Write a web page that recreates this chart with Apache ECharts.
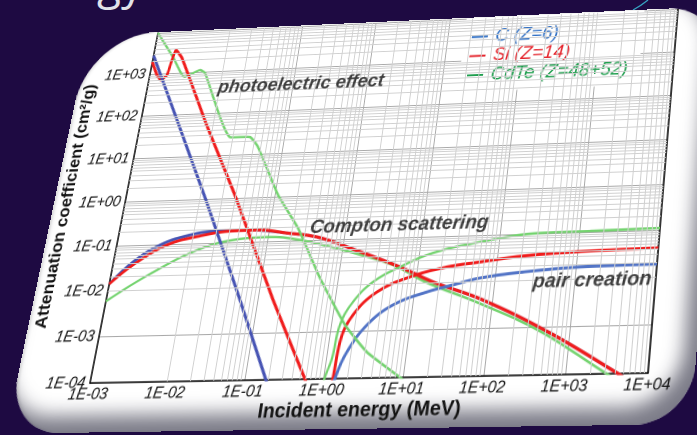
<!DOCTYPE html>
<html>
<head>
<meta charset="utf-8">
<script src="https://cdn.jsdelivr.net/npm/echarts@6/dist/echarts.min.js"></script>
<style>
  html, body { margin: 0; padding: 0; width: 697px; height: 435px; overflow: hidden; background: #1e0a42; }
  #deco { position: absolute; left: 0; top: 0; }
  #card {
    position: absolute; left: 0; top: 0; width: 683px; height: 408px;
    background: #ffffff; border-radius: 75px 55px 55px 55px; overflow: hidden;
    transform-origin: 0 0;
    box-shadow: inset -12px -16px 18px rgba(30, 30, 50, 0.58), inset 2px 0 3px rgba(0, 0, 0, 0.12);
  }
  #chart { position: absolute; left: 0; top: 0; width: 683px; height: 408px; }
</style>
</head>
<body>
<svg id="deco" width="697" height="435">
  <text x="143" y="-1" text-anchor="end" font-family="Open Sans" font-size="44" fill="#e2e2ea">Energy</text>
  <path d="M648 0 Q642 5 633 10" stroke="#3cc8e0" stroke-width="1.3" fill="none" opacity="0.8"/>
</svg>
<div id="card"><div id="chart"></div></div>
<script>
// ---- Mass attenuation coefficients (cm²/g) vs photon energy (MeV) ----
// Carbon, Z = 6
const cPhotoE   = [0.001, 0.0123, 0.059, 0.188, 0.26];
const cPhotoMu  = [2800, 0.95, 5.3e-3, 1e-4, 3.5e-5];
const cComptonE  = [0.001, 0.00183, 0.00382, 0.0091, 0.0205, 0.0413, 0.069, 0.175, 0.444, 1.26, 6.0, 16.8, 76.5, 578, 4230, 10000];
const cComptonMu = [0.014, 0.042, 0.097, 0.156, 0.184, 0.187, 0.182, 0.149, 0.116, 0.063, 0.0225, 0.0102, 3.94e-3, 7.35e-4, 1.03e-4, 4.3e-5];
const cPairE  = [1.35, 1.41, 1.79, 2.88, 5.68, 14.6, 30.4, 65.2, 222, 1126, 10000];
const cPairMu = [5e-5, 1e-4, 3.6e-4, 1.32e-3, 3.42e-3, 6.25e-3, 8.57e-3, 0.0117, 0.0149, 0.0178, 0.0186];

// Silicon, Z = 14
const siPhotoE  = [0.001, 0.00126, 0.00148, 0.00174, 0.00186, 0.0020, 0.00254, 0.0083, 0.0294, 0.159, 0.59, 0.75];
const siPhotoMu = [1950, 930, 700, 910, 2080, 3600, 2280, 52, 1.17, 5.1e-3, 1e-4, 4.5e-5];
const siComptonE  = [0.001, 0.00186, 0.00474, 0.0125, 0.0335, 0.069, 0.175, 0.444, 1.26, 6.0, 16.8, 76.5, 578, 4230, 10000];
const siComptonMu = [0.014, 0.036, 0.096, 0.146, 0.18, 0.182, 0.149, 0.116, 0.063, 0.0225, 0.0102, 3.94e-3, 7.35e-4, 1.03e-4, 4.3e-5];
const siPairE  = [1.28, 1.33, 1.40, 1.83, 3.37, 8.38, 23.9, 61.6, 211, 883, 10000];
const siPairMu = [5e-5, 1e-4, 5.9e-4, 2.19e-3, 6.65e-3, 0.0135, 0.0211, 0.026, 0.0331, 0.0377, 0.041];

// CdTe, Z = 48 + 52
const cdtePhotoE  = [0.001, 0.00189, 0.0031, 0.0049, 0.00582, 0.0185, 0.0345, 0.0467, 0.111, 0.239, 0.585, 1.51, 3.21, 9.25, 13];
const cdtePhotoMu = [10000, 2470, 780, 1110, 929, 26, 25, 14.4, 1.09, 0.19, 0.0144, 1.35e-3, 3.5e-4, 1e-4, 6.6e-5];
const cdteComptonE  = [0.001, 0.00331, 0.0134, 0.0433, 0.0975, 0.269, 1.28, 4.84, 14.0, 71.4, 428, 3030, 10000];
const cdteComptonMu = [0.0058, 0.0221, 0.0746, 0.1175, 0.125, 0.102, 0.0515, 0.0251, 0.0100, 3.3e-3, 8.2e-4, 1.05e-4, 3.2e-5];
const cdtePairE  = [0.98, 1.05, 1.19, 1.30, 1.73, 2.87, 6.0, 15.0, 57.4, 321, 1360, 10000];
const cdtePairMu = [5e-5, 1.1e-4, 2.7e-4, 1.36e-3, 4.16e-3, 0.011, 0.0225, 0.0436, 0.0708, 0.102, 0.105, 0.110];

// Legend entries and process labels
const materialNames = ['C (Z=6)', 'Si (Z=14)', 'CdTe (Z=48+52)'];
const noteText = ['photoelectric effect', 'Compton scattering', 'pair creation'];
const noteE  = [9.6e-3, 0.344, 305];
const noteMu = [392, 0.186, 9.0e-3];

// Axis tick labels, one per decade
const xTickLabels = ['1E-03', '1E-02', '1E-01', '1E+00', '1E+01', '1E+02', '1E+03', '1E+04'];
const yTickLabels = ['1E-04', '1E-03', '1E-02', '1E-01', '1E+00', '1E+01', '1E+02', '1E+03', '1E+04'];
const xDecades = [1e-3, 1e-2, 1e-1, 1, 10, 100, 1000];
const yDecades = [1e-4, 1e-3, 1e-2, 1e-1, 1, 10, 100, 1000];
const minorSteps = [2, 3, 4, 5, 6, 7, 8, 9];

// ---- styles ----
const FONT = '"Liberation Sans", Arial, sans-serif';
const colorMain = { C: '#4653b3', Si: '#f01c1c', CdTe: '#74d36f' };
const colorPair = { C: '#5274c6', Si: '#f01c1c', CdTe: '#74d36f' };
const lineWidth = { C: 3, Si: 3, CdTe: 2.4 };
const legendColor = ['#2f6fc4', '#e4232b', '#1f9e4e'];
const SMOOTH_EDGE = 0.15;  // absorption-edge curves keep their corners
const SMOOTH_SOFT = 0.4;

function pairs(xs, ys) { return xs.map((x, i) => [x, ys[i]]); }

function curve(name, key, xs, ys, palette, smooth) {
  const col = palette[key];
  return {
    type: 'line', name: name, data: pairs(xs, ys),
    showSymbol: false, symbol: 'none', smooth: smooth,
    lineStyle: { color: col, width: lineWidth[key] },
    itemStyle: { color: col },
    clip: true, silent: true, z: 3
  };
}

const minorX = xDecades.flatMap(d => minorSteps.map(m => m * d));
const minorY = yDecades.flatMap(d => minorSteps.map(m => m * d));

const tickLabelStyle = { fontFamily: FONT, fontStyle: 'italic', fontSize: 15.5, color: '#111' };
const axisLineStyle = { color: '#111', width: 1.6 };
const legendText = { fontFamily: FONT, fontStyle: 'italic', fontSize: 19.5, lineHeight: 20.4, padding: [0, 0, 0, 3] };

const option = {
  animation: false,
  grid: { left: 78, top: 1, width: 560, height: 360, outerBoundsMode: 'none' },
  legend: {
    orient: 'vertical', left: 416, top: 1,
    padding: [10, 12, 7, 8], backgroundColor: '#ffffff',
    itemWidth: 17, itemHeight: 2, itemGap: 0, icon: 'rect', selectedMode: false,
    textStyle: legendText,
    data: materialNames.map((n, i) => ({
      name: n, icon: 'rect',
      itemStyle: { color: legendColor[i] },
      textStyle: Object.assign({ color: legendColor[i] }, legendText)
    }))
  },
  xAxis: {
    type: 'log', logBase: 10, min: 1e-3, max: 1e4,
    axisLine: { show: true, onZero: false, lineStyle: axisLineStyle },
    axisTick: { show: false },
    splitLine: { show: true, lineStyle: { color: '#a9a9a9', width: 1 } },
    axisLabel: Object.assign({ margin: 3, formatter: v => xTickLabels[Math.round(Math.log10(v)) + 3] }, tickLabelStyle),
    name: 'Incident energy (MeV)', nameLocation: 'middle', nameGap: 20, nameMoveOverlap: false,
    nameTextStyle: { fontFamily: FONT, fontWeight: 'bold', fontSize: 19.5, color: '#111' }
  },
  yAxis: [
    {
      type: 'log', logBase: 10, min: 1e-4, max: 1e4, position: 'left',
      axisLine: { show: true, onZero: false, lineStyle: axisLineStyle },
      axisTick: { show: false },
      splitLine: { show: true, lineStyle: { color: '#a9a9a9', width: 1 } },
      axisLabel: Object.assign({ margin: 5, showMaxLabel: false, formatter: v => yTickLabels[Math.round(Math.log10(v)) + 4] }, tickLabelStyle),
      name: 'Attenuation coefficient (cm²/g)', nameLocation: 'middle', nameGap: 55, nameRotate: 90, nameMoveOverlap: false,
      nameTextStyle: { fontFamily: FONT, fontWeight: 'bold', fontSize: 17.5, color: '#111' }
    },
    {
      type: 'log', logBase: 10, min: 1e-4, max: 1e4, position: 'right',
      axisLine: { show: true, onZero: false, lineStyle: axisLineStyle },
      axisTick: { show: false }, axisLabel: { show: false }, splitLine: { show: false }
    }
  ],
  series: [
    {
      // fine log-grid lines at 2..9 within each decade
      type: 'line', name: 'grid', data: [], silent: true, z: 1,
      markLine: {
        silent: true, symbol: ['none', 'none'], animation: false,
        label: { show: false }, emphasis: { disabled: true },
        lineStyle: { color: '#d0d0d0', width: 1, type: 'solid' },
        data: minorX.map(v => ({ xAxis: v })).concat(minorY.map(v => ({ yAxis: v })))
      }
    },
    curve(materialNames[0], 'C', cComptonE, cComptonMu, colorMain, SMOOTH_SOFT),
    curve(materialNames[2], 'CdTe', cdteComptonE, cdteComptonMu, colorMain, SMOOTH_SOFT),
    curve(materialNames[1], 'Si', siComptonE, siComptonMu, colorMain, SMOOTH_SOFT),
    curve(materialNames[2], 'CdTe', cdtePairE, cdtePairMu, colorPair, SMOOTH_SOFT),
    curve(materialNames[1], 'Si', siPairE, siPairMu, colorPair, SMOOTH_SOFT),
    curve(materialNames[0], 'C', cPairE, cPairMu, colorPair, SMOOTH_SOFT),
    curve(materialNames[2], 'CdTe', cdtePhotoE, cdtePhotoMu, colorMain, SMOOTH_EDGE),
    curve(materialNames[1], 'Si', siPhotoE, siPhotoMu, colorMain, SMOOTH_EDGE),
    curve(materialNames[0], 'C', cPhotoE, cPhotoMu, colorMain, SMOOTH_EDGE),
    {
      type: 'scatter', name: 'notes', data: pairs(noteE, noteMu), symbolSize: 0.1, z: 6, silent: true,
      itemStyle: { color: 'rgba(0,0,0,0)' },
      label: {
        show: true, position: 'right', distance: 0,
        formatter: p => noteText[p.dataIndex],
        fontFamily: FONT, fontWeight: 'bold', fontStyle: 'italic', fontSize: 19.5, color: '#111'
      }
    }
  ]
};

const chart = echarts.init(document.getElementById('chart'), null, { renderer: 'canvas', devicePixelRatio: 2 });
chart.setOption(option);

// ---- tilt the card: projective map from the flat plot rectangle to the slanted one ----
function solveHomography(src, dst) {
  const A = [], b = [];
  for (let i = 0; i < 4; i++) {
    const [x, y] = src[i], [X, Y] = dst[i];
    A.push([x, y, 1, 0, 0, 0, -X * x, -X * y]); b.push(X);
    A.push([0, 0, 0, x, y, 1, -Y * x, -Y * y]); b.push(Y);
  }
  const n = 8;
  for (let c = 0; c < n; c++) {
    let p = c;
    for (let r = c + 1; r < n; r++) if (Math.abs(A[r][c]) > Math.abs(A[p][c])) p = r;
    [A[c], A[p]] = [A[p], A[c]]; [b[c], b[p]] = [b[p], b[c]];
    for (let r = 0; r < n; r++) {
      if (r === c) continue;
      const f = A[r][c] / A[c][c];
      for (let k = c; k < n; k++) A[r][k] -= f * A[c][k];
      b[r] -= f * b[c];
    }
  }
  return b.map((v, i) => v / A[i][i]);
}
const flatCorners = [[78, 1], [638, 1], [638, 361], [78, 361]];
const tiltedCorners = [[158, 33], [678, 9], [648, 373], [90, 383]];
const h = solveHomography(flatCorners, tiltedCorners);
document.getElementById('card').style.transform =
  `matrix3d(${h[0]},${h[3]},0,${h[6]},${h[1]},${h[4]},0,${h[7]},0,0,1,0,${h[2]},${h[5]},0,1)`;
</script>
</body>
</html>
